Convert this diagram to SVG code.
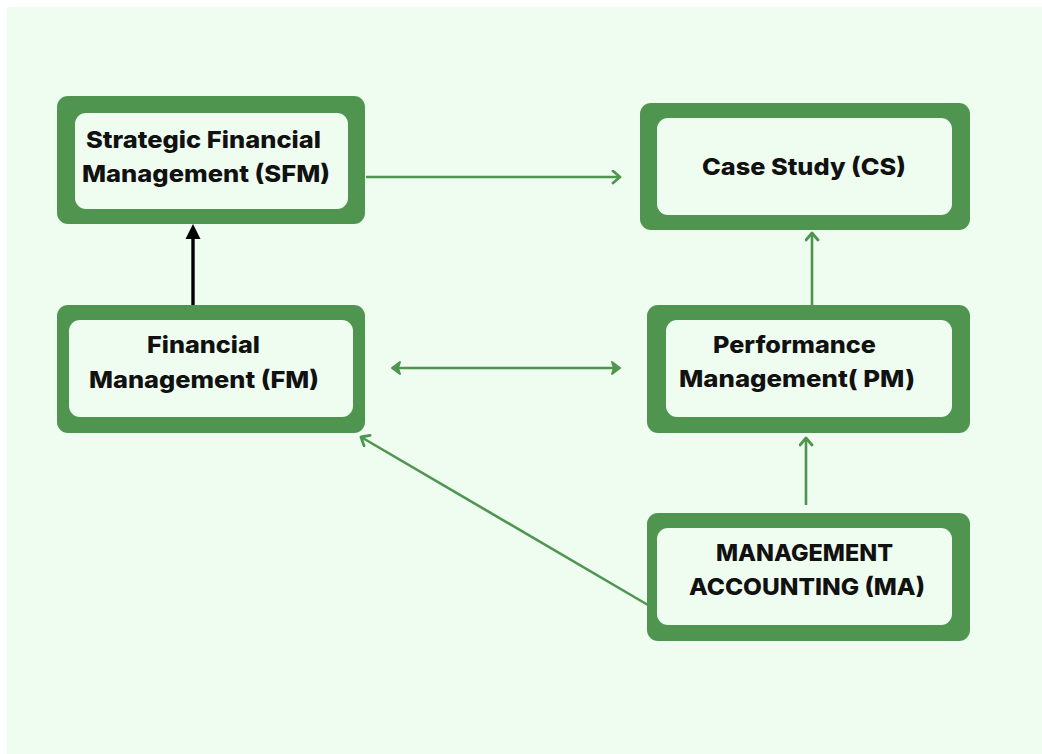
<svg xmlns="http://www.w3.org/2000/svg" width="1042" height="754" viewBox="0 0 1042 754">
<defs>
<style>
.outer{fill:#4f9550}
.inner{fill:#effdf0}
.t{font-family:Inter,"Liberation Sans",sans-serif;font-weight:800;font-size:23.5px;fill:#111}
.g{stroke:#4f9550;fill:none;stroke-width:2.6}
</style>
<marker id="chev" markerUnits="userSpaceOnUse" markerWidth="14" markerHeight="16" refX="9" refY="7" orient="auto-start-reverse" viewBox="0 0 14 16">
<path d="M2,1 L9,7 L2,13" fill="none" stroke="#4f9550" stroke-width="2.8" stroke-linecap="round" stroke-linejoin="round"/>
</marker>
<marker id="chev2" markerUnits="userSpaceOnUse" markerWidth="14" markerHeight="16" refX="10" refY="7" orient="auto-start-reverse" viewBox="0 0 14 16">
<path d="M2,1 L10,7 L2,13 L4,7 Z" fill="#4f9550" stroke="#4f9550" stroke-width="2" stroke-linejoin="round"/>
</marker>
<marker id="tri" markerUnits="userSpaceOnUse" markerWidth="16" markerHeight="16" refX="0" refY="8" orient="auto" viewBox="0 0 16 16">
<path d="M0,0.5 L15,8 L0,15.5 Z" fill="#000"/>
</marker>
</defs>
<rect x="0" y="0" width="1042" height="754" fill="#ffffff"/>
<rect x="7" y="7" width="1035" height="747" fill="#eefdf0"/>

<g id="connectors">
<line class="g" x1="366" y1="177" x2="620" y2="177" marker-end="url(#chev)"/>
<line class="g" x1="392" y1="368" x2="620" y2="368" stroke-width="3.4" marker-start="url(#chev2)" marker-end="url(#chev2)"/>
<line class="g" x1="812" y1="305" x2="812" y2="233" marker-end="url(#chev)"/>
<line class="g" x1="806" y1="505" x2="806" y2="438" marker-end="url(#chev)"/>
<line class="g" x1="648" y1="605" x2="361" y2="437" marker-end="url(#chev)"/>
<line x1="193" y1="307" x2="193" y2="239" stroke="#000" stroke-width="3.4" marker-end="url(#tri)"/>
</g>

<g id="sfm">
<rect class="outer" x="57" y="96" width="308" height="128" rx="11"/>
<rect class="inner" x="75" y="113" width="273" height="96" rx="11"/>
<text class="t" x="86" y="148" textLength="235" lengthAdjust="spacingAndGlyphs">Strategic Financial</text>
<text class="t" x="82" y="182" textLength="248" lengthAdjust="spacingAndGlyphs">Management (SFM)</text>
</g>

<g id="cs">
<rect class="outer" x="640" y="103" width="330" height="127" rx="11"/>
<rect class="inner" x="657" y="118" width="295" height="97" rx="11"/>
<text class="t" x="702" y="175" textLength="204" lengthAdjust="spacingAndGlyphs">Case Study (CS)</text>
</g>

<g id="fm">
<rect class="outer" x="57" y="305" width="308" height="128" rx="11"/>
<rect class="inner" x="69" y="320" width="284" height="97" rx="11"/>
<text class="t" x="147" y="353" textLength="113" lengthAdjust="spacingAndGlyphs">Financial</text>
<text class="t" x="89" y="388" textLength="230" lengthAdjust="spacingAndGlyphs">Management (FM)</text>
</g>

<g id="pm">
<rect class="outer" x="647" y="305" width="323" height="128" rx="11"/>
<rect class="inner" x="666" y="320" width="286" height="97" rx="11"/>
<text class="t" x="713" y="353" textLength="163" lengthAdjust="spacingAndGlyphs">Performance</text>
<text class="t" x="679" y="387" textLength="236" lengthAdjust="spacingAndGlyphs">Management( PM)</text>
</g>

<g id="ma">
<rect class="outer" x="647" y="513" width="323" height="128" rx="11"/>
<rect class="inner" x="657" y="528" width="295" height="97" rx="11"/>
<text class="t" x="716" y="561" textLength="177" lengthAdjust="spacingAndGlyphs">MANAGEMENT</text>
<text class="t" x="689" y="595" textLength="236" lengthAdjust="spacingAndGlyphs">ACCOUNTING (MA)</text>
</g>
</svg>
